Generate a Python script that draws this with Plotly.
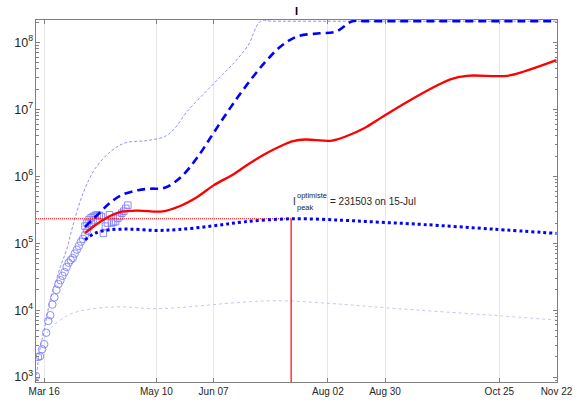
import plotly.graph_objects as go
import math

# ---------------- data ----------------
obs_circle_dates = ["2020-03-12","2020-03-13","2020-03-14","2020-03-15","2020-03-16","2020-03-17",
                    "2020-03-18","2020-03-19","2020-03-20","2020-03-21","2020-03-22","2020-03-23",
                    "2020-03-24","2020-03-25","2020-03-26","2020-03-27","2020-03-28","2020-03-29",
                    "2020-03-30","2020-03-31","2020-04-01","2020-04-02","2020-04-03","2020-04-04",
                    "2020-04-05","2020-04-06","2020-04-07","2020-04-08","2020-04-09"]
obs_circle_vals = [1.04e3, 2.0e3, 2.05e3, 2.6e3, 3.1e3, 4.6e3, 6.9e3, 8.4e3, 1.21e4, 1.55e4, 2.0e4,
                   2.45e4, 2.8e4, 3.25e4, 3.7e4, 4.4e4, 5.1e4, 5.6e4, 6.0e4, 7.0e4, 8.0e4, 9.1e4,
                   1.05e5, 1.16e5, 1.33e5, 1.53e5, 1.75e5, 2.0e5, 2.2e5]

obs_square_dates = ["2020-04-05","2020-04-06","2020-04-07","2020-04-08","2020-04-09","2020-04-10",
                    "2020-04-11","2020-04-12","2020-04-13","2020-04-14","2020-04-15","2020-04-16",
                    "2020-04-17","2020-04-18","2020-04-19","2020-04-20","2020-04-21","2020-04-22",
                    "2020-04-23","2020-04-24","2020-04-25","2020-04-26"]
obs_square_vals = [1.8e5, 2.0e5, 2.25e5, 2.4e5, 2.5e5, 2.6e5, 2.65e5, 2.6e5, 2.5e5, 1.4e5, 1.8e5,
                   2.0e5, 2.65e5, 2.0e5, 2.05e5, 2.1e5, 2.35e5, 2.5e5, 2.8e5, 3.0e5, 3.3e5, 3.7e5]

mid_dates = ["2020-04-05","2020-04-10","2020-04-17","2020-04-23","2020-05-01","2020-05-13",
             "2020-05-21","2020-05-30","2020-06-07","2020-06-17","2020-06-24","2020-07-02",
             "2020-07-10","2020-07-16","2020-07-22","2020-08-04","2020-08-11","2020-08-20",
             "2020-08-29","2020-09-10","2020-09-23","2020-10-01","2020-10-09","2020-10-29",
             "2020-11-07","2020-11-22"]
mid_vals = [1.41e5, 1.85e5, 2.52e5, 2.95e5, 3.07e5, 2.98e5, 3.53e5, 4.9e5, 7.3e5, 1.08e6, 1.51e6,
            2.13e6, 2.83e6, 3.34e6, 3.53e6, 3.4e6, 3.95e6, 5.25e6, 7.77e6, 1.29e7, 2.14e7,
            2.8e7, 3.16e7, 3.16e7, 3.74e7, 5.4e7]

pess_dates = ["2020-04-05","2020-04-12","2020-04-17","2020-04-23","2020-05-01","2020-05-07",
              "2020-05-14","2020-05-22","2020-05-30","2020-06-07","2020-06-15","2020-06-23",
              "2020-07-02","2020-07-10","2020-07-18","2020-07-29","2020-08-06","2020-08-14",
              "2020-08-20","2020-09-05","2020-09-25","2020-10-15","2020-11-05","2020-11-22"]
pess_vals = [1.75e5, 2.81e5, 3.94e5, 5.24e5, 6.19e5, 6.5e5, 6.7e5, 9.7e5, 1.9e6, 4.43e6, 1.03e7,
             2.25e7, 4.95e7, 8.7e7, 1.22e8, 1.36e8, 1.44e8, 2.06e8, 2.06e8, 2.06e8, 2.06e8,
             2.06e8, 2.06e8, 2.06e8]

upper_dates = ["2020-03-12","2020-03-14","2020-03-16","2020-03-19","2020-03-21","2020-03-24",
               "2020-03-27","2020-03-30","2020-04-04","2020-04-10","2020-04-18","2020-04-25",
               "2020-05-05","2020-05-14","2020-05-19","2020-05-25","2020-06-07","2020-06-17",
               "2020-06-24","2020-06-30","2020-07-06","2020-08-01","2020-09-01","2020-10-01",
               "2020-11-01","2020-11-22"]
upper_vals = [900, 2.66e3, 5.0e3, 1.44e4, 2.3e4, 4.5e4, 8.0e4, 1.8e5, 5.5e5, 1.3e6, 2.4e6, 3.16e6,
              3.4e6, 3.9e6, 5.2e6, 9.2e6, 2.4e7, 4.95e7, 9.1e7, 2.06e8, 2.06e8, 2.06e8, 2.06e8,
              2.06e8, 2.06e8, 2.06e8]

opt_dates = ["2020-04-05","2020-04-10","2020-04-17","2020-04-27","2020-05-10","2020-05-21",
             "2020-06-06","2020-06-22","2020-07-15","2020-08-09","2020-08-28","2020-09-18",
             "2020-10-22","2020-11-22"]
opt_vals = [1.12e5, 1.41e5, 1.58e5, 1.62e5, 1.55e5, 1.6e5, 1.8e5, 2.08e5, 231503, 2.2e5, 2.05e5,
            1.9e5, 1.62e5, 1.4e5]

lower_dates = ["2020-03-16","2020-03-19","2020-03-27","2020-04-02","2020-04-12","2020-04-23",
               "2020-05-10","2020-05-30","2020-06-19","2020-07-09","2020-08-03","2020-08-31",
               "2020-10-26","2020-11-22"]
lower_vals = [3.8e3, 5.3e3, 8.2e3, 9.6e3, 1.08e4, 1.12e4, 1.05e4, 1.15e4, 1.3e4, 1.38e4, 1.26e4,
              1.08e4, 8.2e3, 7.1e3]

peak_value = 231503
peak_date = "2020-07-15"
peak_label = "15-Jul"

x_tick_dates = ["2020-03-16","2020-05-10","2020-06-07","2020-08-02","2020-08-30","2020-10-25","2020-11-22"]
x_tick_text = ["Mar 16","May 10","Jun 07","Aug 02","Aug 30","Oct 25","Nov 22"]
x_range = ["2020-03-12", "2020-11-22 06:00"]
y_min, y_max = 845, 2.15e8

# ---------------- figure ----------------
fig = go.Figure()
FONT = "Liberation Sans, Arial, Helvetica, sans-serif"

fig.add_trace(go.Scatter(x=lower_dates, y=lower_vals, mode="lines", line_shape="spline",
                         line=dict(color="#c4c4ff", width=1, dash="dot")))
fig.add_trace(go.Scatter(x=upper_dates, y=upper_vals, mode="lines", line_shape="spline",
                         line=dict(color="#7373ff", width=0.8, dash="3px,2px")))
fig.add_trace(go.Scatter(x=obs_circle_dates, y=obs_circle_vals, mode="markers",
                         marker=dict(symbol="circle-open", size=7.5, color="#8080ff",
                                     line=dict(width=0.9))))
fig.add_trace(go.Scatter(x=obs_square_dates, y=obs_square_vals, mode="markers",
                         marker=dict(symbol="square-open", size=6.5, color="#8080ff",
                                     line=dict(width=0.9))))
# peak guide lines
fig.add_trace(go.Scatter(x=[x_range[0], peak_date], y=[peak_value, peak_value], mode="lines",
                         line=dict(color="#ff0000", width=1, dash="1px,1px")))
fig.add_trace(go.Scatter(x=[peak_date, peak_date], y=[peak_value, 700], mode="lines",
                         line=dict(color="#ff0000", width=1.2)))
fig.add_trace(go.Scatter(x=opt_dates, y=opt_vals, mode="lines", line_shape="spline",
                         line=dict(color="#0000ff", width=3, dash="dot")))
fig.add_trace(go.Scatter(x=pess_dates, y=pess_vals, mode="lines", line_shape="spline",
                         line=dict(color="#0000ff", width=2.6, dash="8px,5px")))
fig.add_trace(go.Scatter(x=mid_dates, y=mid_vals, mode="lines", line_shape="spline",
                         line=dict(color="#ff0000", width=2.3)))

axcol = "#808080"
fig.update_xaxes(type="date", range=x_range, tickvals=x_tick_dates, ticktext=x_tick_text,
                 showgrid=True, gridcolor="#e6e6e6", gridwidth=1, zeroline=False,
                 showline=True, linecolor=axcol, linewidth=1, mirror="ticks",
                 ticks="inside", ticklen=4, tickcolor=axcol,
                 tickfont=dict(family=FONT, size=10, color="#262626"))
fig.update_yaxes(type="log", range=[math.log10(y_min), math.log10(y_max)], dtick=1,
                 exponentformat="power", showgrid=False, zeroline=False,
                 showline=True, linecolor=axcol, linewidth=1, mirror="ticks",
                 ticks="inside", ticklen=4, tickcolor=axcol,
                 minor=dict(ticks="inside", ticklen=2.5, tickcolor=axcol, showgrid=False),
                 tickfont=dict(family=FONT, size=10, color="#262626"))

ann_font = dict(family=FONT, size=10, color="#262626")
small_font = dict(family=FONT, size=7.5, color="#262626")
ly = math.log10(peak_value)
fig.add_annotation(x=peak_date, y=ly, xref="x", yref="y", text="I", showarrow=False,
                   xanchor="left", yanchor="middle", xshift=0, yshift=17, font=ann_font)
fig.add_annotation(x=peak_date, y=ly, xref="x", yref="y", text="optimiste", showarrow=False,
                   xanchor="left", yanchor="middle", xshift=4, yshift=23, font=small_font)
fig.add_annotation(x=peak_date, y=ly, xref="x", yref="y", text="peak", showarrow=False,
                   xanchor="left", yanchor="middle", xshift=4, yshift=11, font=small_font)
fig.add_annotation(x=peak_date, y=ly, xref="x", yref="y",
                   text=f"= {peak_value} on {peak_label}", showarrow=False,
                   xanchor="left", yanchor="middle", xshift=37, yshift=17, font=ann_font)
fig.add_annotation(x=0.5, y=1, xref="paper", yref="paper", text="<b>I</b>", showarrow=False,
                   xanchor="center", yanchor="bottom", yshift=1,
                   font=dict(family=FONT, size=11, color="#000000"))

fig.update_layout(width=585, height=409, showlegend=False,
                  margin=dict(l=36, r=21, t=20, b=20),
                  paper_bgcolor="white", plot_bgcolor="white")

fig.write_html("out.html", config={"displayModeBar": False},
               post_script="document.body.style.margin='0';document.body.style.overflow='hidden';")
